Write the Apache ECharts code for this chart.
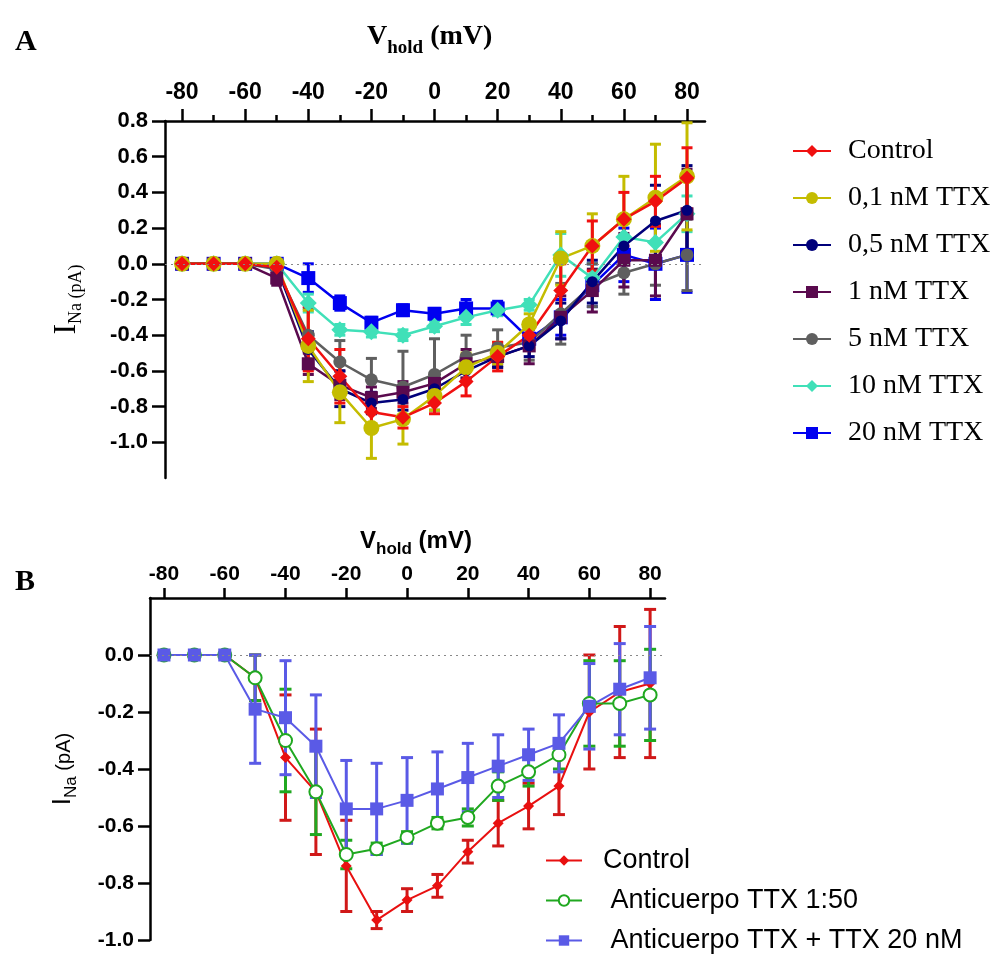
<!DOCTYPE html>
<html>
<head>
<meta charset="utf-8">
<script src="https://cdn.jsdelivr.net/npm/echarts@6/dist/echarts.min.js"></script>
<style>html,body{margin:0;padding:0;background:#fff;}#c{width:997px;height:954px;}</style>
</head>
<body>
<div id="c"></div>
<script>
// ---------- DATA ----------
const vHold = [-80,-70,-60,-50,-40,-30,-20,-10,0,10,20,30,40,50,60,70,80];
const xTickLabels = [-80,-60,-40,-20,0,20,40,60,80];
const xMinorTicks = [-70,-50,-30,-10,10,30,50,70];
const yTicksA = [-1.0,-0.8,-0.6,-0.4,-0.2,0.0,0.2,0.4,0.6,0.8];
const yTicksB = [-1.0,-0.8,-0.6,-0.4,-0.2,0.0];

// Panel A (mean, error)
const aControl    = [0,0,0,-0.02,-0.42,-0.63,-0.83,-0.86,-0.78,-0.66,-0.52,-0.40,-0.15,0.10,0.25,0.35,0.48];
const aControlErr = [0,0,0,0.02,0.18,0.15,0.08,0.06,0.06,0.08,0.08,0.06,0.15,0.14,0.15,0.14,0.17];
const aTTX01      = [0,0,0,0,-0.46,-0.72,-0.92,-0.87,-0.74,-0.58,-0.50,-0.34,0.03,0.10,0.25,0.37,0.49];
const aTTX01Err   = [0,0,0,0.02,0.20,0.17,0.17,0.14,0.08,0.08,0.06,0.06,0.15,0.18,0.24,0.30,0.30];
const aTTX05      = [0,0,0,-0.02,-0.48,-0.70,-0.78,-0.76,-0.70,-0.60,-0.52,-0.46,-0.32,-0.10,0.10,0.24,0.30];
const aTTX05Err   = [0,0,0,0.02,0.10,0.10,0.06,0.06,0.06,0.06,0.06,0.06,0.10,0.12,0.15,0.20,0.25];
const aTTX1       = [0,0,0,-0.08,-0.56,-0.68,-0.75,-0.72,-0.67,-0.56,-0.52,-0.46,-0.30,-0.15,0.02,0.02,0.28];
const aTTX1Err    = [0,0,0,0.04,0.06,0.08,0.06,0.06,0.06,0.08,0.06,0.10,0.12,0.12,0.15,0.20,0.25];
const aTTX5       = [0,0,0,-0.03,-0.40,-0.55,-0.65,-0.69,-0.62,-0.52,-0.47,-0.44,-0.28,-0.12,-0.05,0.00,0.05];
const aTTX5Err    = [0,0,0,0.02,0.15,0.12,0.12,0.20,0.20,0.12,0.10,0.10,0.17,0.12,0.12,0.12,0.20];
const aTTX10      = [0,0,0,0,-0.22,-0.37,-0.38,-0.40,-0.35,-0.30,-0.26,-0.23,0.05,-0.08,0.15,0.12,0.28];
const aTTX10Err   = [0,0,0,0.02,0.05,0.03,0.03,0.03,0.03,0.04,0.03,0.03,0.12,0.08,0.08,0.10,0.10];
const aTTX20      = [0,0,0,0,-0.08,-0.22,-0.33,-0.26,-0.28,-0.25,-0.25,-0.42,-0.30,-0.12,0.05,0.00,0.05];
const aTTX20Err   = [0,0,0,0.02,0.08,0.04,0.03,0.03,0.03,0.05,0.04,0.05,0.10,0.12,0.15,0.20,0.21];

// Panel B (mean, error)
const bControl    = [0,0,0,-0.08,-0.36,-0.48,-0.74,-0.93,-0.86,-0.81,-0.69,-0.59,-0.53,-0.46,-0.20,-0.13,-0.10];
const bControlErr = [0,0,0,0.08,0.22,0.22,0.16,0.03,0.04,0.04,0.04,0.08,0.08,0.10,0.20,0.23,0.26];
const bAnti       = [0,0,0,-0.08,-0.30,-0.48,-0.70,-0.68,-0.64,-0.59,-0.57,-0.46,-0.41,-0.35,-0.17,-0.17,-0.14];
const bAntiErr    = [0,0,0,0.08,0.18,0.15,0.05,0.02,0.02,0.02,0.03,0.05,0.05,0.05,0.15,0.15,0.16];
const bAntiTTX    = [0,0,0,-0.19,-0.22,-0.32,-0.54,-0.54,-0.51,-0.47,-0.43,-0.39,-0.35,-0.31,-0.18,-0.12,-0.08];
const bAntiTTXErr = [0,0,0,0.19,0.20,0.18,0.17,0.16,0.15,0.13,0.12,0.11,0.09,0.10,0.15,0.16,0.18];

const namesA = ['Control','0,1 nM TTX','0,5 nM TTX','1 nM TTX','5 nM TTX','10 nM TTX','20 nM TTX'];
const namesB = ['Control ',' Anticuerpo TTX 1:50',' Anticuerpo TTX + TTX 20 nM'];

// ---------- BUILD ----------
const SANS = 'Liberation Sans, Arial, sans-serif';
const SERIF = 'Liberation Serif, Times New Roman, serif';

function errRender(color, capW, lw) {
  return function (params, api) {
    const x = api.value(0), y = api.value(1), e = api.value(2);
    if (!e) return null;
    const t = api.coord([x, y + e]), b = api.coord([x, y - e]);
    const st = {stroke: color, lineWidth: lw};
    return {type: 'group', children: [
      {type: 'line', shape: {x1: t[0], y1: t[1], x2: b[0], y2: b[1]}, style: st},
      {type: 'line', shape: {x1: t[0] - capW/2, y1: t[1], x2: t[0] + capW/2, y2: t[1]}, style: st},
      {type: 'line', shape: {x1: b[0] - capW/2, y1: b[1], x2: b[0] + capW/2, y2: b[1]}, style: st}
    ]};
  };
}

const series = [];
function addSet(grid, name, vals, errs, cfg) {
  series.push({
    type: 'custom', xAxisIndex: grid === 0 ? 0 : 2, yAxisIndex: grid,
    renderItem: errRender(cfg.errColor || cfg.color, cfg.cap, cfg.errW),
    data: vHold.map((x, i) => [x, vals[i], errs[i]]),
    encode: {x: 0, y: 1}, silent: true, animation: false, z: 2
  });
  const s = {
    type: 'line', name: name, xAxisIndex: grid === 0 ? 0 : 2, yAxisIndex: grid,
    data: vHold.map((x, i) => [x, vals[i]]),
    symbol: cfg.symbol, symbolSize: cfg.size,
    lineStyle: {color: cfg.color, width: cfg.lw},
    itemStyle: Object.assign({color: cfg.color}, cfg.item || {}),
    animation: false, z: 3
  };
  if (cfg.zero) {
    s.markLine = {silent: true, symbol: ['none','none'], label: {show: false},
      lineStyle: {type: [2, 4], color: '#888', width: 1.2}, data: [{yAxis: 0}], animation: false};
  }
  series.push(s);
}

// panel A, drawn back to front
addSet(0, namesA[6], aTTX20, aTTX20Err, {color: '#0000f0', symbol: 'rect', size: 14, lw: 2.5, cap: 11, errW: 3, zero: true});
addSet(0, namesA[5], aTTX10, aTTX10Err, {color: '#40e0b8', symbol: 'diamond', size: 17, lw: 2.5, cap: 11, errW: 3});
addSet(0, namesA[4], aTTX5, aTTX5Err, {color: '#5f5f5f', symbol: 'circle', size: 13, lw: 2.5, cap: 11, errW: 3});
addSet(0, namesA[3], aTTX1, aTTX1Err, {color: '#5a0a4e', symbol: 'rect', size: 13, lw: 2.5, cap: 11, errW: 3});
addSet(0, namesA[2], aTTX05, aTTX05Err, {color: '#00007a', symbol: 'circle', size: 11, lw: 2.5, cap: 11, errW: 3});
addSet(0, namesA[1], aTTX01, aTTX01Err, {color: '#c4bc00', symbol: 'circle', size: 16, lw: 2.5, cap: 11, errW: 3});
addSet(0, namesA[0], aControl, aControlErr, {color: '#f01010', symbol: 'diamond', size: 15, lw: 2.5, cap: 11, errW: 3});

// panel B
addSet(1, namesB[0], bControl, bControlErr, {color: '#e81010', errColor: '#d01818', symbol: 'diamond', size: 11, lw: 2, cap: 12, errW: 3, zero: true});
addSet(1, namesB[1], bAnti, bAntiErr, {color: '#20a820', symbol: 'emptyCircle', size: 13, lw: 2, cap: 12, errW: 3, item: {borderWidth: 2.5, borderColor: '#20a820'}});
addSet(1, namesB[2], bAntiTTX, bAntiTTXErr, {color: '#5a5ae6', symbol: 'rect', size: 13, lw: 2, cap: 12, errW: 3});

const axLine = {onZero: false, lineStyle: {color: '#000', width: 2.5}};
const tickLbl = (size) => ({fontFamily: SANS, fontWeight: 'bold', fontSize: size, color: '#000'});

const option = {
  backgroundColor: '#fff',
  animation: false,
  textStyle: {fontFamily: SANS},
  title: [
    {left: 362, top: 18, text: '{v|V}{s|hold}{v| (mV)}',
      textStyle: {rich: {
        v: {fontFamily: SERIF, fontSize: 28, color: '#000', lineHeight: 30, verticalAlign: 'top'},
        s: {fontFamily: SERIF, fontSize: 19, color: '#000', lineHeight: 19, padding: [16, 0, 0, 0], verticalAlign: 'top'}
      }}},
    {left: 355, top: 524, text: '{v|V}{s|hold}{v| (mV)}',
      textStyle: {rich: {
        v: {fontFamily: SANS, fontWeight: 'bold', fontSize: 24, color: '#000', lineHeight: 26, verticalAlign: 'top'},
        s: {fontFamily: SANS, fontWeight: 'bold', fontSize: 17, color: '#000', lineHeight: 17, padding: [12, 0, 0, 0], verticalAlign: 'top'}
      }}},
    {left: 10, top: 22, text: 'A', textStyle: {fontFamily: SERIF, fontWeight: 'bold', fontSize: 30, color: '#000'}},
    {left: 10, top: 562, text: 'B', textStyle: {fontFamily: SERIF, fontWeight: 'bold', fontSize: 30, color: '#000'}}
  ],
  legend: [
    {data: namesA, orient: 'vertical', left: 787, top: 131, itemWidth: 38, itemHeight: 15, itemGap: 17,
      textStyle: {fontFamily: SERIF, fontSize: 28, color: '#000', lineHeight: 30, padding: [0, 0, 0, 12]}, selectedMode: false},
    {data: namesB, orient: 'vertical', left: 545, top: 847, height: 110, padding: 0, itemWidth: 36, itemHeight: 13, itemGap: 13,
      textStyle: {fontFamily: SANS, fontSize: 27, color: '#000', lineHeight: 27, padding: [0, 0, 0, 16]}, selectedMode: false}
  ],
  grid: [
    {left: 165, top: 121, width: 540, height: 357},
    {left: 150, top: 598, width: 515, height: 342}
  ],
  xAxis: [
    {gridIndex: 0, type: 'value', position: 'top', min: -85.4, max: 85.7,
      axisLine: axLine, splitLine: {show: false},
      axisTick: {customValues: xTickLabels, length: 12, lineStyle: {width: 2.5, color: '#000'}},
      axisLabel: Object.assign({customValues: xTickLabels, margin: 17}, tickLbl(23))},
    {gridIndex: 0, type: 'value', position: 'top', min: -85.4, max: 85.7,
      axisLine: {show: false, onZero: false}, splitLine: {show: false}, axisLabel: {show: false},
      axisTick: {customValues: xMinorTicks, length: 6, lineStyle: {width: 2.5, color: '#000'}}},
    {gridIndex: 1, type: 'value', position: 'top', min: -84.6, max: 84.9,
      axisLine: axLine, splitLine: {show: false},
      axisTick: {customValues: xTickLabels, length: 10, lineStyle: {width: 2.5, color: '#000'}},
      axisLabel: Object.assign({customValues: xTickLabels, margin: 13}, tickLbl(21))}
  ],
  yAxis: [
    {gridIndex: 0, type: 'value', position: 'left', min: -1.2, max: 0.8,
      axisLine: {show: true, onZero: false, lineStyle: {color: '#000', width: 2.5}}, splitLine: {show: false},
      axisTick: {show: true, customValues: yTicksA, length: 13, lineStyle: {width: 2.5, color: '#000'}},
      axisLabel: Object.assign({customValues: yTicksA, margin: 17, formatter: v => v.toFixed(1)}, tickLbl(22)),
      name: '{i|I}{s|Na (pA)}', nameLocation: 'middle', nameRotate: 90, nameGap: 82,
      nameTextStyle: {rich: {
        i: {fontFamily: SERIF, fontSize: 32, color: '#000', lineHeight: 32, verticalAlign: 'top'},
        s: {fontFamily: SERIF, fontSize: 18, color: '#000', lineHeight: 18, padding: [16, 0, 0, 0], verticalAlign: 'top'}
      }}},
    {gridIndex: 1, type: 'value', position: 'left', min: -1.0, max: 0.2,
      axisLine: {show: true, onZero: false, lineStyle: {color: '#000', width: 2.5}}, splitLine: {show: false},
      axisTick: {show: true, customValues: yTicksB, length: 12, lineStyle: {width: 2.5, color: '#000'}},
      axisLabel: Object.assign({customValues: yTicksB, margin: 16, formatter: v => v.toFixed(1)}, tickLbl(21)),
      name: '{i|I}{s|Na}{p| (pA)}', nameLocation: 'middle', nameRotate: 90, nameGap: 72,
      nameTextStyle: {rich: {
        i: {fontFamily: SANS, fontSize: 26, color: '#000', lineHeight: 28, verticalAlign: 'top'},
        s: {fontFamily: SANS, fontSize: 17, color: '#000', lineHeight: 17, padding: [13, 0, 0, 0], verticalAlign: 'top'},
        p: {fontFamily: SANS, fontSize: 20, color: '#000', lineHeight: 20, padding: [4, 0, 0, 0], verticalAlign: 'top'}
      }}}
  ],
  series: series
};

echarts.init(document.getElementById('c'), null, {renderer: 'canvas'}).setOption(option);
</script>
</body>
</html>
